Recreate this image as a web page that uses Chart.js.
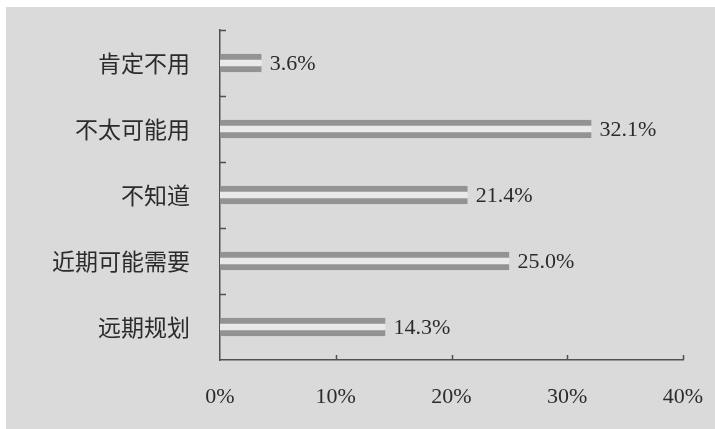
<!DOCTYPE html>
<html>
<head>
<meta charset="utf-8">
<script src="https://cdn.jsdelivr.net/npm/chart.js@4/dist/chart.umd.min.js"></script>
<style>
  html, body { margin: 0; padding: 0; background: #ffffff; }
  #wrap { position: relative; width: 715px; height: 429px; }
  canvas { display: block; }
</style>
</head>
<body>
<div id="wrap"><canvas id="c" width="715" height="429"></canvas></div>
<script>
// Data
const categories = ['肯定不用', '不太可能用', '不知道', '近期可能需要', '远期规划'];
const shares = [3.6, 32.1, 21.4, 25.0, 14.3];
const valueLabels = ['3.6%', '32.1%', '21.4%', '25.0%', '14.3%'];
const xTicks = [0, 10, 20, 30, 40];

const INK = '#2b2b2b';
const AXIS = '#505050';

const backdrop = {
  id: 'backdrop',
  beforeDraw(chart) {
    const ctx = chart.ctx;
    ctx.save();
    ctx.fillStyle = '#ffffff';
    ctx.fillRect(0, 0, chart.width, chart.height);
    ctx.fillStyle = '#dadada';
    ctx.fillRect(6, 7, chart.width - 6, chart.height - 7);
    ctx.restore();
  }
};

const innerTicks = {
  id: 'innerTicks',
  afterDatasetsDraw(chart) {
    const ctx = chart.ctx;
    const xs = chart.scales.x, ys = chart.scales.y;
    const area = chart.chartArea;
    ctx.save();
    ctx.strokeStyle = AXIS;
    ctx.lineWidth = 1.5;
    ctx.beginPath();
    xTicks.forEach(v => {
      if (v === 0) return;
      const px = Math.round(xs.getPixelForValue(v)) + 0.5;
      ctx.moveTo(px, area.bottom);
      ctx.lineTo(px, area.bottom - 5);
    });
    const n = categories.length;
    const half = (ys.getPixelForValue(1) - ys.getPixelForValue(0)) / 2;
    for (let i = 0; i < n; i++) {
      const yb = Math.round(ys.getPixelForValue(i) - half) + 0.5;
      ctx.moveTo(area.left, yb);
      ctx.lineTo(area.left + 6, yb);
    }
    ctx.stroke();
    ctx.restore();
  }
};

const valueText = {
  id: 'valueText',
  afterDatasetsDraw(chart) {
    const ctx = chart.ctx;
    const meta = chart.getDatasetMeta(0);
    ctx.save();
    ctx.fillStyle = INK;
    ctx.font = '22px "Liberation Serif", "DejaVu Serif", serif';
    ctx.textAlign = 'left';
    ctx.textBaseline = 'middle';
    meta.data.forEach((bar, i) => {
      ctx.fillText(valueLabels[i], bar.x + 8, bar.y + 1);
    });
    ctx.restore();
  }
};

function zeroPad(scale) {
  scale.paddingTop = 0; scale.paddingBottom = 0;
  scale.paddingLeft = 0; scale.paddingRight = 0;
}

new Chart(document.getElementById('c'), {
  type: 'bar',
  data: {
    labels: categories,
    datasets: [{
      data: shares,
      backgroundColor: '#e9e9e9',
      borderColor: '#939393',
      borderWidth: { top: 6, bottom: 6, left: 0, right: 0 },
      borderSkipped: false,
      barThickness: 18
    }]
  },
  options: {
    indexAxis: 'y',
    responsive: false,
    animation: false,
    devicePixelRatio: 1,
    layout: { padding: { left: 0, right: 32, top: 30, bottom: 0 } },
    plugins: {
      legend: { display: false },
      tooltip: { enabled: false }
    },
    scales: {
      x: {
        min: 0,
        max: 40,
        afterBuildTicks(scale) { scale.ticks = xTicks.map(v => ({ value: v })); },
        afterFit(scale) { scale.height = 69; zeroPad(scale); },
        grid: { display: false, drawTicks: false },
        border: { display: true, color: AXIS, width: 1.5 },
        ticks: {
          padding: 24,
          color: INK,
          font: { family: '"Liberation Serif", "DejaVu Serif", serif', size: 22 },
          callback: v => v + '%',
          maxRotation: 0
        }
      },
      y: {
        afterFit(scale) { scale.width = 220; zeroPad(scale); },
        grid: { display: false, drawTicks: false },
        border: { display: true, color: AXIS, width: 1.5 },
        ticks: {
          padding: 30,
          color: INK,
          font: { family: '"Noto Sans CJK SC", sans-serif', size: 23 }
        }
      }
    }
  },
  plugins: [backdrop, innerTicks, valueText]
});
</script>
</body>
</html>
